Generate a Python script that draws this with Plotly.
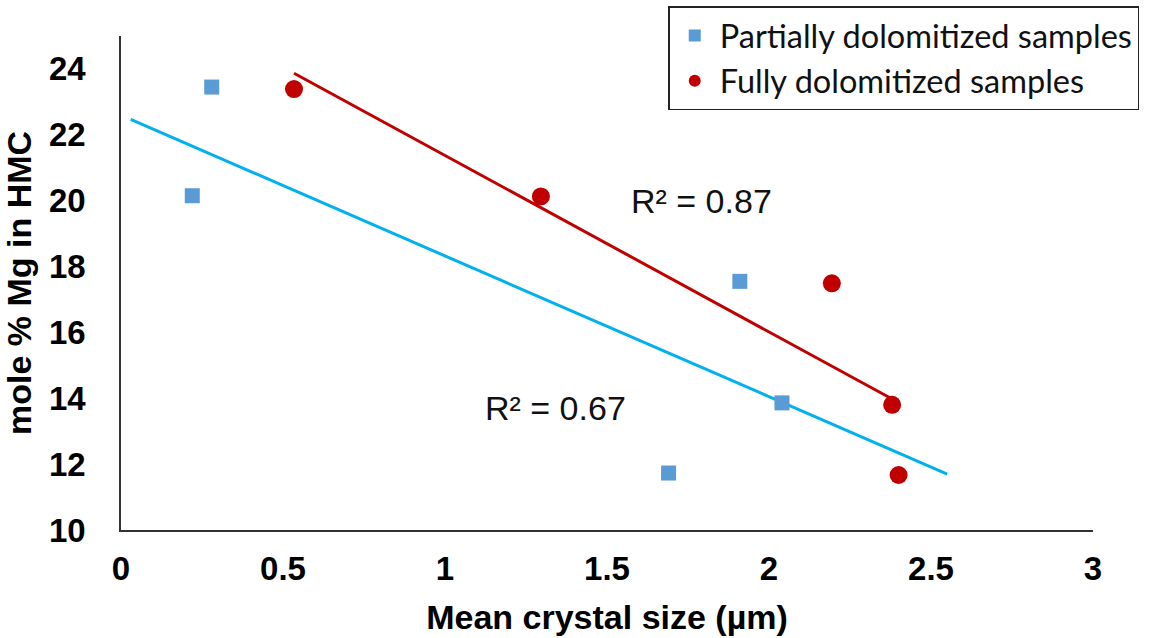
import numpy as np
import plotly.graph_objects as go

# Data
partial_x = [0.28, 0.22, 1.91, 2.04, 1.69]
partial_y = [23.45, 20.15, 17.55, 13.86, 11.73]
full_x = [0.534, 1.296, 2.194, 2.38, 2.40]
full_y = [23.39, 20.13, 17.49, 13.80, 11.67]

partial_trend_range = [0.03, 2.55]
full_trend_range = [min(full_x), max(full_x)]

x_ticks = [0, 0.5, 1, 1.5, 2, 2.5, 3]
x_tick_labels = ["0", "0.5", "1", "1.5", "2", "2.5", "3"]
y_ticks = [10, 12, 14, 16, 18, 20, 22, 24]

r2_labels = ["R² = 0.87", "R² = 0.67"]

BLUE_M = "#5B9BD5"
BLUE_L = "#00B0F0"
RED = "#C00000"

def fit(xs, ys, rng):
    m, b = np.polyfit(xs, ys, 1)
    xx = np.array(rng)
    return xx, m * xx + b

fig = go.Figure()

px_, py_ = fit(partial_x, partial_y, partial_trend_range)
fx_, fy_ = fit(full_x, full_y, full_trend_range)

fig.add_trace(go.Scatter(x=px_, y=py_, mode="lines", line=dict(color=BLUE_L, width=3),
                         showlegend=False, hoverinfo="skip"))
fig.add_trace(go.Scatter(x=fx_, y=fy_, mode="lines", line=dict(color=RED, width=3),
                         showlegend=False, hoverinfo="skip"))

fig.add_trace(go.Scatter(x=partial_x, y=partial_y, mode="markers",
                         name="Partially dolomitized samples",
                         marker=dict(symbol="square", size=15, color=BLUE_M)))
fig.add_trace(go.Scatter(x=full_x, y=full_y, mode="markers",
                         name="Fully dolomitized samples",
                         marker=dict(symbol="circle", size=18, color=RED)))

r2_font = dict(family="Liberation Sans, Arial", size=34, color="#111111")
fig.add_annotation(x=1.793, y=20.0, text=r2_labels[0], showarrow=False, font=r2_font)
fig.add_annotation(x=1.34, y=13.7, text=r2_labels[1], showarrow=False, font=r2_font)

tick_font = dict(family="Liberation Sans, Arial", size=33, color="#000000")
title_font = dict(family="Liberation Sans, Arial", size=34, color="#000000")

fig.update_layout(
    width=1149, height=638,
    margin=dict(l=121, r=56, t=36, b=108, autoexpand=False),
    paper_bgcolor="white", plot_bgcolor="white",
    showlegend=True,
    legend=dict(x=0.563, y=0.99, xref="paper", yref="container",
                xanchor="left", yanchor="top",
                bgcolor="white", bordercolor="#222222", borderwidth=1.5,
                font=dict(family="Lato, Open Sans", size=32.5, color="#111111"),
                itemsizing="constant", itemwidth=40, tracegroupgap=0),
    xaxis=dict(range=[0, 3], tickmode="array", tickvals=x_ticks, ticktext=[f"<b>{t}</b>" for t in x_tick_labels],
               showgrid=False, zeroline=False, showline=True, linecolor="#333333", linewidth=1.5,
               ticks="", tickfont=tick_font, ticklabelstandoff=9, automargin=False,
               title=dict(text="<b>Mean crystal size (µm)</b>", font=title_font, standoff=19)),
    yaxis=dict(range=[10, 25], tickmode="array", tickvals=y_ticks, ticktext=[f"<b>{t}</b>" for t in y_ticks],
               showgrid=False, zeroline=False, showline=True, linecolor="#333333", linewidth=1.5,
               ticks="", tickfont=tick_font, ticklabelstandoff=27, automargin=False,
               title=dict(text="<b>mole % Mg in HMC</b>", font=title_font, standoff=10)),
)

fig.write_html("out.html")
